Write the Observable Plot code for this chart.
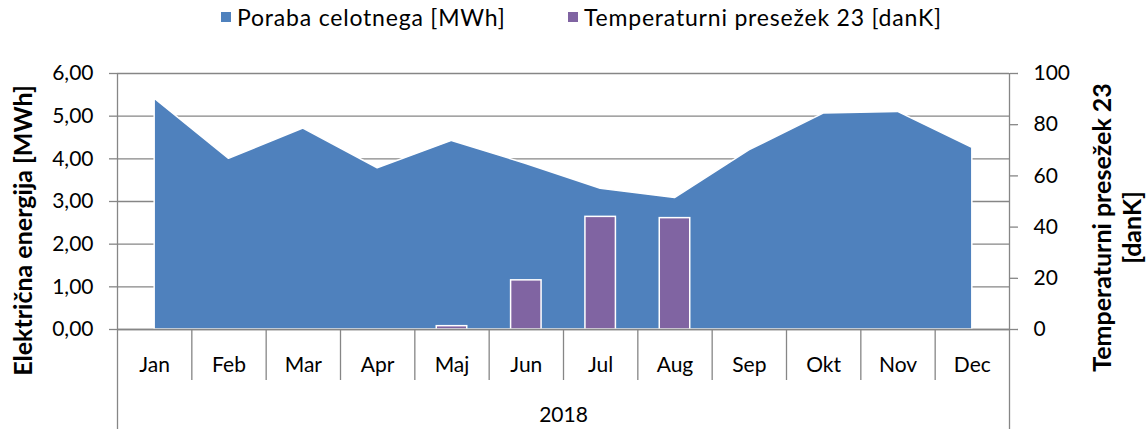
<!DOCTYPE html>
<html>
<head>
<meta charset="utf-8">
<script src="https://cdn.jsdelivr.net/npm/d3@7"></script>
<script src="https://cdn.jsdelivr.net/npm/@observablehq/plot@0.6"></script>
<style>
  html, body { margin: 0; padding: 0; background: #fff; }
  body { width: 1148px; height: 429px; overflow: hidden; font-family: Lato, "Open Sans", sans-serif; color: #000; }
  #legend { position: relative; height: 40px; font-size: 23px; letter-spacing: 0.8px; }
  .item { position: absolute; top: 3px; display: flex; align-items: center; white-space: nowrap; }
  .sw { width: 10px; height: 10px; margin-right: 6px; }
  #chart svg { display: block; }
</style>
</head>
<body>
<div id="legend"></div>
<div id="chart"></div>
<script>
// ---- data ----
const months = ["Jan", "Feb", "Mar", "Apr", "Maj", "Jun", "Jul", "Aug", "Sep", "Okt", "Nov", "Dec"];
const consumption = [5.41, 4.00, 4.71, 3.78, 4.42, 3.88, 3.30, 3.08, 4.20, 5.06, 5.10, 4.26]; // MWh
const tempExcess = [0, 0, 0, 0, 1.3, 19.2, 44.0, 43.5, 0, 0, 0, 0]; // danK
const leftTicks = [0, 1, 2, 3, 4, 5, 6];
const rightTicks = [0, 20, 40, 60, 80, 100];
const yearLabel = "2018";
const seriesNames = ["Poraba celotnega [MWh]", "Temperaturni presežek 23 [danK]"];
const leftTitle = "Električna energija [MWh]";
const rightTitle = "Temperaturni presežek 23\n[danK]";

const blue = "#4F81BD", purple = "#8064A2", gray = "#868686";
const rightMax = 100, leftMax = 6;
const k = leftMax / rightMax; // right-axis value -> left-axis units

// ---- legend ----
const legend = d3.select("#legend");
const legendLeft = [221, 568];
seriesNames.forEach((name, i) => {
  const it = legend.append("div").attr("class", "item").style("left", legendLeft[i] + "px");
  it.append("div").attr("class", "sw").style("background", [blue, purple][i]);
  it.append("span").text(name);
});

const table = months.map((m, i) => ({i, month: m, v: consumption[i], t: tempExcess[i]}));

const chart = Plot.plot({
  width: 1148,
  height: 389,
  marginTop: 33,
  marginBottom: 100,
  marginLeft: 117,
  marginRight: 139,
  style: {fontFamily: "Lato, 'Open Sans', sans-serif", color: "#000", background: "#fff", overflow: "visible"},
  x: {type: "linear", domain: [-0.5, months.length - 0.5], axis: null},
  y: {domain: [0, leftMax], axis: null},
  marks: [
    Plot.gridY(leftTicks, {stroke: gray, strokeOpacity: 1, strokeWidth: 1.3}),
    Plot.areaY(table, {x: "i", y: "v", fill: blue, stroke: "white", strokeWidth: 1.5, strokeLinejoin: "miter"}),
    Plot.rectY(table.filter(d => d.t > 0), {
      x1: d => d.i - 0.205, x2: d => d.i + 0.205, y1: 0, y2: d => d.t * k,
      fill: purple, stroke: "white", strokeWidth: 1.5
    }),
    Plot.ruleY([0], {stroke: gray, strokeWidth: 1.3}),
    // vertical axis lines (plot part)
    Plot.ruleX([-0.5, months.length - 0.5], {y1: 0, y2: leftMax, stroke: gray, strokeWidth: 1.3}),
    // outer category-axis lines extending to bottom
    Plot.axisX([-0.5, months.length - 0.5], {tickSize: 100, tickFormat: () => "", label: null, stroke: gray, strokeWidth: 1.3}),
    // category separators
    Plot.axisX(d3.range(0.5, months.length - 1, 1), {tickSize: 51, tickFormat: () => "", label: null, stroke: gray, strokeWidth: 1.3}),
    // month labels
    Plot.axisX(d3.range(months.length), {tickSize: 0, tickPadding: 28, tickFormat: i => months[i], label: null, fontSize: 21}),
    // year label
    Plot.text([yearLabel], {x: (months.length - 1) / 2, frameAnchor: "bottom", dy: 86, text: d => d, fontSize: 21, lineAnchor: "middle"}),
    // left axis
    Plot.axisY(leftTicks, {anchor: "left", tickSize: 8, tickPadding: 16, label: null, stroke: gray, strokeWidth: 1.3, fontSize: 21,
      tickFormat: d => d.toFixed(2).replace(".", ",")}),
    // right axis
    Plot.axisY(rightTicks.map(t => t * k), {anchor: "right", tickSize: 8, tickPadding: 16, label: null, stroke: gray, strokeWidth: 1.3, fontSize: 21,
      tickFormat: d => String(Math.round(d / k))}),
    // axis titles
    Plot.text([leftTitle], {frameAnchor: "left", dx: -94, dy: 29, rotate: -90, text: d => d, fontSize: 25, fontWeight: "bold",
      textAnchor: "middle", lineAnchor: "middle"}),
    Plot.text([rightTitle], {frameAnchor: "right", dx: 107, dy: 26, rotate: -90, text: d => d, fontSize: 25, fontWeight: "bold",
      textAnchor: "middle", lineAnchor: "middle", lineHeight: 1.2})
  ]
});
document.getElementById("chart").append(chart);
</script>
</body>
</html>
